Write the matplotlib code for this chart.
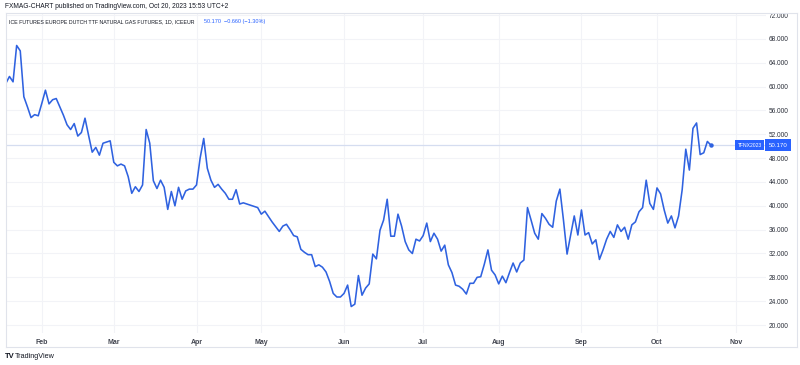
import numpy as np
import pandas as pd
import matplotlib
matplotlib.use("Agg")
import matplotlib.pyplot as plt
import matplotlib.transforms as mtransforms
from matplotlib.lines import Line2D

plt.rcParams['font.family'] = ['Liberation Sans', 'DejaVu Sans']

# ---- data -------------------------------------------------------------
start_date = "2023-01-18"
holidays = ["2023-04-07", "2023-04-10"]
prices = [
    60.55, 61.7, 60.8, 66.9, 66.0, 58.3, 56.6, 54.8, 55.3, 55.1,
    57.2, 59.4, 57.1, 57.8, 58.0, 56.6, 55.2, 53.6, 52.8, 53.8,
    51.7, 52.3, 54.7, 51.8, 49.0, 49.8, 48.5, 50.5, 50.7, 50.9,
    47.3, 46.7, 47.0, 46.7, 44.9, 42.1, 43.2, 42.4, 43.5, 52.8,
    50.5, 44.2, 42.9, 44.3, 43.1, 39.4, 42.4, 40.0, 43.1, 41.1,
    42.5, 42.8, 42.8, 43.5, 48.0, 51.3, 46.3, 44.3, 43.1, 43.6,
    42.8, 42.1, 41.1, 41.1, 42.7, 40.3, 40.5, 40.3, 40.1, 39.9,
    39.7, 38.6, 39.1, 38.2, 37.3, 36.5, 35.7, 36.6, 36.9, 36.0,
    35.0, 34.8, 32.7, 32.2, 31.8, 31.8, 29.8, 30.1, 29.7, 28.9,
    27.3, 25.3, 24.7, 24.7, 25.3, 26.7, 23.1, 23.5, 28.3, 25.0,
    26.2, 26.9, 31.9, 31.1, 35.9, 37.6, 41.1, 34.9, 34.9, 38.6,
    36.6, 34.0, 32.6, 32.0, 34.4, 34.1, 35.0, 37.1, 34.0, 35.4,
    34.4, 32.4, 33.4, 30.1, 28.8, 26.7, 26.5, 26.0, 25.2, 27.0,
    27.0, 28.0, 28.1, 30.2, 32.6, 29.2, 28.4, 26.9, 28.2, 27.1,
    28.8, 30.4, 28.9, 30.4, 30.9, 39.7, 37.6, 35.4, 34.4, 38.7,
    37.9, 36.9, 36.4, 40.8, 42.8, 37.6, 31.9, 35.1, 38.3, 35.1,
    39.3, 35.1, 35.5, 33.6, 34.3, 31.0, 32.6, 34.4, 35.7, 34.7,
    36.8, 35.7, 36.4, 34.4, 36.8, 37.3, 39.0, 39.7, 44.3, 40.4,
    39.4, 43.0, 42.0, 39.3, 37.1, 38.3, 36.3, 38.3, 42.7, 49.5,
    46.0, 53.0, 53.9, 48.6, 48.9, 50.8, 50.17,
]
last_price = 50.170
month_labels = ["Feb", "Mar", "Apr", "May", "Jun", "Jul", "Aug", "Sep", "Oct", "Nov"]
price_ticks = list(range(20, 73, 4))
symbol = "TFNX2023"
header = "FXMAG-CHART published on TradingView.com, Oct 20, 2023 15:53 UTC+2"
title = "ICE FUTURES EUROPE DUTCH TTF NATURAL GAS FUTURES, 1D, ICEEUR"
quote = "50.170  \u22120.660 (\u22121.30%)"

# ---- trading calendar ---------------------------------------------------
cal = pd.bdate_range(start_date, "2023-11-30", freq="C", holidays=holidays)
months = np.asarray(cal.month)
bar = np.arange(len(cal))
month_pos = [int(np.argmax(months == m)) for m in range(2, 12)]

W, H = 800, 365
fig = plt.figure(figsize=(W / 100, H / 100), dpi=100)
fig.patch.set_facecolor("white")

L, R, T, B = 5.5, 766, 13, 333
ax = fig.add_axes([L / W, 1 - B / H, (R - L) / W, (B - T) / H])
ax.set_facecolor("white")

line_col = "#2f62e0"
n = len(prices)
ax.plot(bar[:n], prices, color=line_col, lw=1.15, solid_joinstyle="round", zorder=3)
ax.plot([bar[n - 1]], [prices[-1]], marker="o", ms=2.2, color=line_col, zorder=4)
ax.axhline(last_price, color="#d5ddf0", lw=0.9, zorder=2)

ax.set_xlim(-0.1, 211.3)
ax.set_ylim(18.66, 72.35)

for s in ax.spines.values():
    s.set_visible(False)

ax.set_xticks(month_pos)
ax.set_xticklabels(month_labels)
ax.set_yticks(price_ticks)
ax.set_yticklabels([f"{v:.3f}" for v in price_ticks])
ax.yaxis.tick_right()
ax.tick_params(axis="y", length=0, pad=2.0, labelsize=4.7, labelcolor="#2a2e39")
ax.tick_params(axis="x", length=0, pad=4.5, labelsize=5.0, labelcolor="#434651")
for t in ax.get_xticklabels():
    t.set_fontweight("bold")
ax.grid(True, color="#f2f3f7", lw=0.8, zorder=0)

renderer = fig.canvas.get_renderer()


def fit_text(txt, target_px):
    bb = txt.get_window_extent(renderer=renderer)
    txt.set_fontsize(txt.get_fontsize() * target_px / bb.width)


# last price label on price scale
tr = mtransforms.blended_transform_factory(fig.transFigure, ax.transData)
s1 = ax.text(737.5 / W, last_price, symbol, transform=tr, ha="left", va="center",
             fontsize=5.0, color="white",
             bbox=dict(boxstyle="square,pad=0.55", fc="#2962ff", ec="none"), zorder=5, clip_on=False)
fit_text(s1, 25)
s2 = ax.text(768.5 / W, last_price, "50.170", transform=tr, ha="left", va="center",
             fontsize=5.0, color="white",
             bbox=dict(boxstyle="square,pad=0.55", fc="#2962ff", ec="none"), zorder=5, clip_on=False)
fit_text(s2, 19)

# pane borders
bc = "#e0e3eb"
fig.add_artist(Line2D([5.5 / W, 797 / W], [1 - 13 / H, 1 - 13 / H], color=bc, lw=0.8))
fig.add_artist(Line2D([5.5 / W, 797 / W], [1 - 346.5 / H, 1 - 346.5 / H], color=bc, lw=0.8))
fig.add_artist(Line2D([5.5 / W, 5.5 / W], [1 - 13 / H, 1 - 346.5 / H], color=bc, lw=0.8))
fig.add_artist(Line2D([797 / W, 797 / W], [1 - 13 / H, 1 - 346.5 / H], color=bc, lw=0.8))

# texts
h = fig.text(5 / W, 1 - 7 / H, header, fontsize=5.0, color="#131722", va="center", ha="left")
fit_text(h, 228)
t = fig.text(9 / W, 1 - 22 / H, title, fontsize=5.0, color="#131722", va="center", ha="left")
fit_text(t, 189)
q = fig.text(204 / W, 1 - 22 / H, quote, fontsize=5.0, color="#2962ff", va="center", ha="left")
fit_text(q, 62)
fig.text(5 / W, 1 - 357 / H, "TV", fontsize=5.5, color="#131722", va="center", ha="left",
         fontweight="bold")
fig.text(15 / W, 1 - 357 / H, "TradingView", fontsize=5.2, color="#131722", va="center", ha="left")

fig.savefig("out.png", dpi=100, facecolor="white")
